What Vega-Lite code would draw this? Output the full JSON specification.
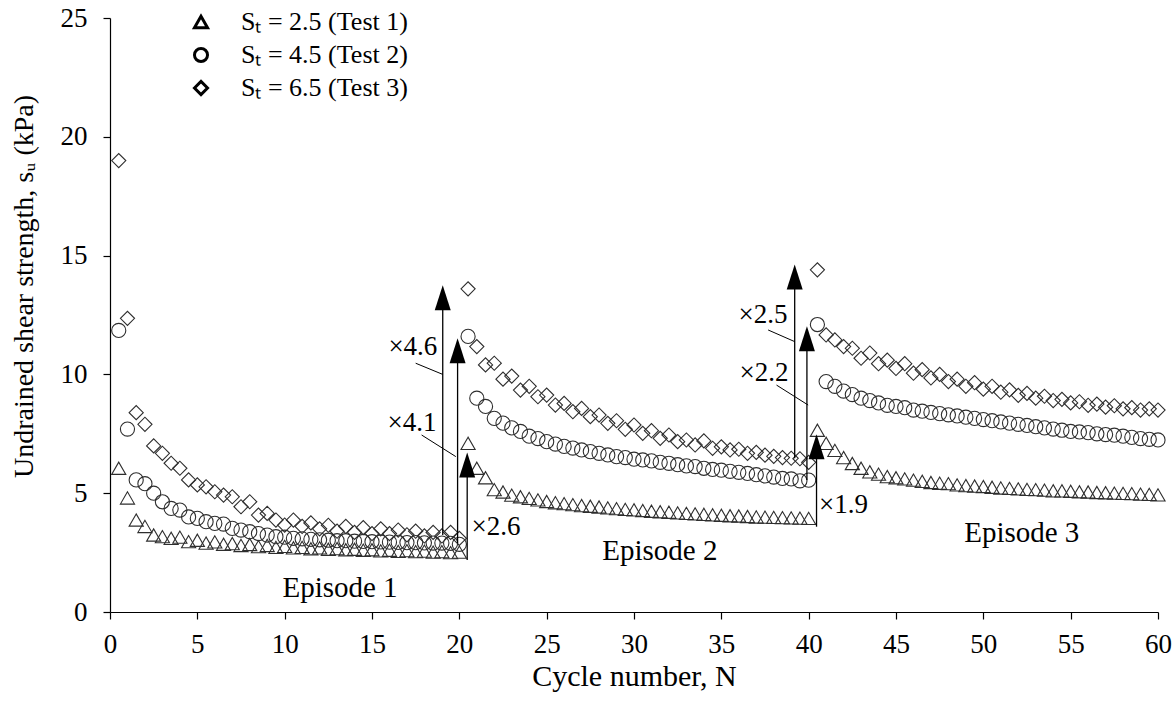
{
  "$schema": "https://vega.github.io/schema/vega-lite/v6.json",
  "width": 1048,
  "height": 594,
  "autosize": {"type": "none"},
  "padding": {"left": 110, "top": 18, "right": 16, "bottom": 89},
  "background": "white",
  "config": {
    "font": "Liberation Serif",
    "view": {"stroke": null},
    "axis": {
      "labelFont": "Liberation Serif", "titleFont": "Liberation Serif",
      "labelFontSize": 27, "titleFontSize": 29, "titleFontWeight": "normal",
      "labelColor": "black", "titleColor": "black",
      "domainColor": "black", "tickColor": "black", "domainWidth": 1.2, "tickWidth": 1.2,
      "tickSize": 7, "grid": false, "labelFlush": false
    },
    "legend": {"labelFont": "Liberation Serif"}
  },
  "datasets": {
    "points": [
      {"N":0.5,"su":6.05,"test":"Test 1"},{"N":1,"su":4.8,"test":"Test 1"},{"N":1.5,"su":3.87,"test":"Test 1"},{"N":2,"su":3.6,"test":"Test 1"},{"N":2.5,"su":3.24,"test":"Test 1"},{"N":3,"su":3.17,"test":"Test 1"},{"N":3.5,"su":3.1,"test":"Test 1"},{"N":4,"su":3.15,"test":"Test 1"},{"N":4.5,"su":2.96,"test":"Test 1"},{"N":5,"su":3.02,"test":"Test 1"},
      {"N":5.5,"su":2.9,"test":"Test 1"},{"N":6,"su":2.95,"test":"Test 1"},{"N":6.5,"su":2.85,"test":"Test 1"},{"N":7,"su":2.88,"test":"Test 1"},{"N":7.5,"su":2.8,"test":"Test 1"},{"N":8,"su":2.84,"test":"Test 1"},{"N":8.5,"su":2.75,"test":"Test 1"},{"N":9,"su":2.8,"test":"Test 1"},{"N":9.5,"su":2.72,"test":"Test 1"},{"N":10,"su":2.76,"test":"Test 1"},
      {"N":10.5,"su":2.7,"test":"Test 1"},{"N":11,"su":2.72,"test":"Test 1"},{"N":11.5,"su":2.66,"test":"Test 1"},{"N":12,"su":2.7,"test":"Test 1"},{"N":12.5,"su":2.64,"test":"Test 1"},{"N":13,"su":2.67,"test":"Test 1"},{"N":13.5,"su":2.62,"test":"Test 1"},{"N":14,"su":2.64,"test":"Test 1"},{"N":14.5,"su":2.6,"test":"Test 1"},{"N":15,"su":2.62,"test":"Test 1"},
      {"N":15.5,"su":2.57,"test":"Test 1"},{"N":16,"su":2.6,"test":"Test 1"},{"N":16.5,"su":2.55,"test":"Test 1"},{"N":17,"su":2.58,"test":"Test 1"},{"N":17.5,"su":2.54,"test":"Test 1"},{"N":18,"su":2.56,"test":"Test 1"},{"N":18.5,"su":2.52,"test":"Test 1"},{"N":19,"su":2.54,"test":"Test 1"},{"N":19.5,"su":2.5,"test":"Test 1"},{"N":20,"su":2.52,"test":"Test 1"},
      {"N":20.5,"su":7.1,"test":"Test 1"},{"N":21,"su":6.05,"test":"Test 1"},{"N":21.5,"su":5.65,"test":"Test 1"},{"N":22,"su":5.15,"test":"Test 1"},{"N":22.5,"su":5.05,"test":"Test 1"},{"N":23,"su":4.92,"test":"Test 1"},{"N":23.5,"su":4.85,"test":"Test 1"},{"N":24,"su":4.78,"test":"Test 1"},{"N":24.5,"su":4.72,"test":"Test 1"},{"N":25,"su":4.65,"test":"Test 1"},
      {"N":25.5,"su":4.6,"test":"Test 1"},{"N":26,"su":4.56,"test":"Test 1"},{"N":26.5,"su":4.52,"test":"Test 1"},{"N":27,"su":4.48,"test":"Test 1"},{"N":27.5,"su":4.45,"test":"Test 1"},{"N":28,"su":4.42,"test":"Test 1"},{"N":28.5,"su":4.38,"test":"Test 1"},{"N":29,"su":4.35,"test":"Test 1"},{"N":29.5,"su":4.32,"test":"Test 1"},{"N":30,"su":4.3,"test":"Test 1"},
      {"N":30.5,"su":4.27,"test":"Test 1"},{"N":31,"su":4.24,"test":"Test 1"},{"N":31.5,"su":4.22,"test":"Test 1"},{"N":32,"su":4.2,"test":"Test 1"},{"N":32.5,"su":4.17,"test":"Test 1"},{"N":33,"su":4.15,"test":"Test 1"},{"N":33.5,"su":4.13,"test":"Test 1"},{"N":34,"su":4.11,"test":"Test 1"},{"N":34.5,"su":4.09,"test":"Test 1"},{"N":35,"su":4.07,"test":"Test 1"},
      {"N":35.5,"su":4.05,"test":"Test 1"},{"N":36,"su":4.04,"test":"Test 1"},{"N":36.5,"su":4.02,"test":"Test 1"},{"N":37,"su":4.0,"test":"Test 1"},{"N":37.5,"su":3.99,"test":"Test 1"},{"N":38,"su":3.98,"test":"Test 1"},{"N":38.5,"su":3.97,"test":"Test 1"},{"N":39,"su":3.96,"test":"Test 1"},{"N":39.5,"su":3.95,"test":"Test 1"},{"N":40,"su":3.94,"test":"Test 1"},
      {"N":40.5,"su":7.65,"test":"Test 1"},{"N":41,"su":7.1,"test":"Test 1"},{"N":41.5,"su":6.8,"test":"Test 1"},{"N":42,"su":6.5,"test":"Test 1"},{"N":42.5,"su":6.25,"test":"Test 1"},{"N":43,"su":6.05,"test":"Test 1"},{"N":43.5,"su":5.9,"test":"Test 1"},{"N":44,"su":5.8,"test":"Test 1"},{"N":44.5,"su":5.7,"test":"Test 1"},{"N":45,"su":5.65,"test":"Test 1"},
      {"N":45.5,"su":5.6,"test":"Test 1"},{"N":46,"su":5.55,"test":"Test 1"},{"N":46.5,"su":5.5,"test":"Test 1"},{"N":47,"su":5.45,"test":"Test 1"},{"N":47.5,"su":5.42,"test":"Test 1"},{"N":48,"su":5.4,"test":"Test 1"},{"N":48.5,"su":5.35,"test":"Test 1"},{"N":49,"su":5.32,"test":"Test 1"},{"N":49.5,"su":5.3,"test":"Test 1"},{"N":50,"su":5.28,"test":"Test 1"},
      {"N":50.5,"su":5.25,"test":"Test 1"},{"N":51,"su":5.22,"test":"Test 1"},{"N":51.5,"su":5.2,"test":"Test 1"},{"N":52,"su":5.18,"test":"Test 1"},{"N":52.5,"su":5.16,"test":"Test 1"},{"N":53,"su":5.15,"test":"Test 1"},{"N":53.5,"su":5.13,"test":"Test 1"},{"N":54,"su":5.1,"test":"Test 1"},{"N":54.5,"su":5.1,"test":"Test 1"},{"N":55,"su":5.08,"test":"Test 1"},
      {"N":55.5,"su":5.06,"test":"Test 1"},{"N":56,"su":5.05,"test":"Test 1"},{"N":56.5,"su":5.03,"test":"Test 1"},{"N":57,"su":5.02,"test":"Test 1"},{"N":57.5,"su":5.0,"test":"Test 1"},{"N":58,"su":4.99,"test":"Test 1"},{"N":58.5,"su":4.98,"test":"Test 1"},{"N":59,"su":4.96,"test":"Test 1"},{"N":59.5,"su":4.95,"test":"Test 1"},{"N":60,"su":4.93,"test":"Test 1"},

      {"N":0.5,"su":11.85,"test":"Test 2"},{"N":1,"su":7.7,"test":"Test 2"},{"N":1.5,"su":5.56,"test":"Test 2"},{"N":2,"su":5.4,"test":"Test 2"},{"N":2.5,"su":5.0,"test":"Test 2"},{"N":3,"su":4.64,"test":"Test 2"},{"N":3.5,"su":4.36,"test":"Test 2"},{"N":4,"su":4.29,"test":"Test 2"},{"N":4.5,"su":4.0,"test":"Test 2"},{"N":5,"su":3.94,"test":"Test 2"},
      {"N":5.5,"su":3.8,"test":"Test 2"},{"N":6,"su":3.73,"test":"Test 2"},{"N":6.5,"su":3.7,"test":"Test 2"},{"N":7,"su":3.52,"test":"Test 2"},{"N":7.5,"su":3.45,"test":"Test 2"},{"N":8,"su":3.38,"test":"Test 2"},{"N":8.5,"su":3.3,"test":"Test 2"},{"N":9,"su":3.24,"test":"Test 2"},{"N":9.5,"su":3.17,"test":"Test 2"},{"N":10,"su":3.15,"test":"Test 2"},
      {"N":10.5,"su":3.1,"test":"Test 2"},{"N":11,"su":3.08,"test":"Test 2"},{"N":11.5,"su":3.06,"test":"Test 2"},{"N":12,"su":3.04,"test":"Test 2"},{"N":12.5,"su":3.02,"test":"Test 2"},{"N":13,"su":3.0,"test":"Test 2"},{"N":13.5,"su":3.0,"test":"Test 2"},{"N":14,"su":2.98,"test":"Test 2"},{"N":14.5,"su":2.97,"test":"Test 2"},{"N":15,"su":2.96,"test":"Test 2"},
      {"N":15.5,"su":2.95,"test":"Test 2"},{"N":16,"su":2.94,"test":"Test 2"},{"N":16.5,"su":2.93,"test":"Test 2"},{"N":17,"su":2.92,"test":"Test 2"},{"N":17.5,"su":2.92,"test":"Test 2"},{"N":18,"su":2.91,"test":"Test 2"},{"N":18.5,"su":2.9,"test":"Test 2"},{"N":19,"su":2.9,"test":"Test 2"},{"N":19.5,"su":2.89,"test":"Test 2"},{"N":20,"su":2.85,"test":"Test 2"},
      {"N":20.5,"su":11.6,"test":"Test 2"},{"N":21,"su":9.0,"test":"Test 2"},{"N":21.5,"su":8.65,"test":"Test 2"},{"N":22,"su":8.15,"test":"Test 2"},{"N":22.5,"su":7.95,"test":"Test 2"},{"N":23,"su":7.75,"test":"Test 2"},{"N":23.5,"su":7.6,"test":"Test 2"},{"N":24,"su":7.4,"test":"Test 2"},{"N":24.5,"su":7.3,"test":"Test 2"},{"N":25,"su":7.17,"test":"Test 2"},
      {"N":25.5,"su":7.07,"test":"Test 2"},{"N":26,"su":6.97,"test":"Test 2"},{"N":26.5,"su":6.9,"test":"Test 2"},{"N":27,"su":6.82,"test":"Test 2"},{"N":27.5,"su":6.75,"test":"Test 2"},{"N":28,"su":6.68,"test":"Test 2"},{"N":28.5,"su":6.61,"test":"Test 2"},{"N":29,"su":6.54,"test":"Test 2"},{"N":29.5,"su":6.5,"test":"Test 2"},{"N":30,"su":6.43,"test":"Test 2"},
      {"N":30.5,"su":6.4,"test":"Test 2"},{"N":31,"su":6.36,"test":"Test 2"},{"N":31.5,"su":6.3,"test":"Test 2"},{"N":32,"su":6.26,"test":"Test 2"},{"N":32.5,"su":6.2,"test":"Test 2"},{"N":33,"su":6.15,"test":"Test 2"},{"N":33.5,"su":6.12,"test":"Test 2"},{"N":34,"su":6.05,"test":"Test 2"},{"N":34.5,"su":6.0,"test":"Test 2"},{"N":35,"su":5.97,"test":"Test 2"},
      {"N":35.5,"su":5.92,"test":"Test 2"},{"N":36,"su":5.88,"test":"Test 2"},{"N":36.5,"su":5.83,"test":"Test 2"},{"N":37,"su":5.78,"test":"Test 2"},{"N":37.5,"su":5.73,"test":"Test 2"},{"N":38,"su":5.68,"test":"Test 2"},{"N":38.5,"su":5.62,"test":"Test 2"},{"N":39,"su":5.6,"test":"Test 2"},{"N":39.5,"su":5.52,"test":"Test 2"},{"N":40,"su":5.55,"test":"Test 2"},
      {"N":40.5,"su":12.1,"test":"Test 2"},{"N":41,"su":9.7,"test":"Test 2"},{"N":41.5,"su":9.5,"test":"Test 2"},{"N":42,"su":9.3,"test":"Test 2"},{"N":42.5,"su":9.15,"test":"Test 2"},{"N":43,"su":9.0,"test":"Test 2"},{"N":43.5,"su":8.9,"test":"Test 2"},{"N":44,"su":8.8,"test":"Test 2"},{"N":44.5,"su":8.7,"test":"Test 2"},{"N":45,"su":8.65,"test":"Test 2"},
      {"N":45.5,"su":8.6,"test":"Test 2"},{"N":46,"su":8.5,"test":"Test 2"},{"N":46.5,"su":8.45,"test":"Test 2"},{"N":47,"su":8.4,"test":"Test 2"},{"N":47.5,"su":8.35,"test":"Test 2"},{"N":48,"su":8.3,"test":"Test 2"},{"N":48.5,"su":8.25,"test":"Test 2"},{"N":49,"su":8.2,"test":"Test 2"},{"N":49.5,"su":8.15,"test":"Test 2"},{"N":50,"su":8.1,"test":"Test 2"},
      {"N":50.5,"su":8.05,"test":"Test 2"},{"N":51,"su":8.0,"test":"Test 2"},{"N":51.5,"su":7.95,"test":"Test 2"},{"N":52,"su":7.9,"test":"Test 2"},{"N":52.5,"su":7.85,"test":"Test 2"},{"N":53,"su":7.8,"test":"Test 2"},{"N":53.5,"su":7.75,"test":"Test 2"},{"N":54,"su":7.7,"test":"Test 2"},{"N":54.5,"su":7.65,"test":"Test 2"},{"N":55,"su":7.6,"test":"Test 2"},
      {"N":55.5,"su":7.58,"test":"Test 2"},{"N":56,"su":7.55,"test":"Test 2"},{"N":56.5,"su":7.5,"test":"Test 2"},{"N":57,"su":7.47,"test":"Test 2"},{"N":57.5,"su":7.44,"test":"Test 2"},{"N":58,"su":7.4,"test":"Test 2"},{"N":58.5,"su":7.35,"test":"Test 2"},{"N":59,"su":7.3,"test":"Test 2"},{"N":59.5,"su":7.27,"test":"Test 2"},{"N":60,"su":7.24,"test":"Test 2"},

      {"N":0.5,"su":19.0,"test":"Test 3"},{"N":1,"su":12.36,"test":"Test 3"},{"N":1.5,"su":8.39,"test":"Test 3"},{"N":2,"su":7.9,"test":"Test 3"},{"N":2.5,"su":6.99,"test":"Test 3"},{"N":3,"su":6.68,"test":"Test 3"},{"N":3.5,"su":6.26,"test":"Test 3"},{"N":4,"su":6.05,"test":"Test 3"},{"N":4.5,"su":5.56,"test":"Test 3"},{"N":5,"su":5.35,"test":"Test 3"},
      {"N":5.5,"su":5.27,"test":"Test 3"},{"N":6,"su":5.06,"test":"Test 3"},{"N":6.5,"su":4.92,"test":"Test 3"},{"N":7,"su":4.85,"test":"Test 3"},{"N":7.5,"su":4.43,"test":"Test 3"},{"N":8,"su":4.64,"test":"Test 3"},{"N":8.5,"su":4.08,"test":"Test 3"},{"N":9,"su":4.15,"test":"Test 3"},{"N":9.5,"su":3.87,"test":"Test 3"},{"N":10,"su":3.66,"test":"Test 3"},
      {"N":10.5,"su":3.87,"test":"Test 3"},{"N":11,"su":3.6,"test":"Test 3"},{"N":11.5,"su":3.75,"test":"Test 3"},{"N":12,"su":3.5,"test":"Test 3"},{"N":12.5,"su":3.65,"test":"Test 3"},{"N":13,"su":3.4,"test":"Test 3"},{"N":13.5,"su":3.6,"test":"Test 3"},{"N":14,"su":3.35,"test":"Test 3"},{"N":14.5,"su":3.55,"test":"Test 3"},{"N":15,"su":3.3,"test":"Test 3"},
      {"N":15.5,"su":3.5,"test":"Test 3"},{"N":16,"su":3.3,"test":"Test 3"},{"N":16.5,"su":3.45,"test":"Test 3"},{"N":17,"su":3.25,"test":"Test 3"},{"N":17.5,"su":3.4,"test":"Test 3"},{"N":18,"su":3.2,"test":"Test 3"},{"N":18.5,"su":3.35,"test":"Test 3"},{"N":19,"su":3.2,"test":"Test 3"},{"N":19.5,"su":3.35,"test":"Test 3"},{"N":20,"su":3.1,"test":"Test 3"},
      {"N":20.5,"su":13.6,"test":"Test 3"},{"N":21,"su":11.17,"test":"Test 3"},{"N":21.5,"su":10.4,"test":"Test 3"},{"N":22,"su":10.47,"test":"Test 3"},{"N":22.5,"su":9.8,"test":"Test 3"},{"N":23,"su":9.93,"test":"Test 3"},{"N":23.5,"su":9.34,"test":"Test 3"},{"N":24,"su":9.5,"test":"Test 3"},{"N":24.5,"su":9.06,"test":"Test 3"},{"N":25,"su":9.13,"test":"Test 3"},
      {"N":25.5,"su":8.71,"test":"Test 3"},{"N":26,"su":8.78,"test":"Test 3"},{"N":26.5,"su":8.43,"test":"Test 3"},{"N":27,"su":8.57,"test":"Test 3"},{"N":27.5,"su":8.22,"test":"Test 3"},{"N":28,"su":8.29,"test":"Test 3"},{"N":28.5,"su":7.94,"test":"Test 3"},{"N":29,"su":8.05,"test":"Test 3"},{"N":29.5,"su":7.69,"test":"Test 3"},{"N":30,"su":7.87,"test":"Test 3"},
      {"N":30.5,"su":7.52,"test":"Test 3"},{"N":31,"su":7.63,"test":"Test 3"},{"N":31.5,"su":7.31,"test":"Test 3"},{"N":32,"su":7.45,"test":"Test 3"},{"N":32.5,"su":7.17,"test":"Test 3"},{"N":33,"su":7.24,"test":"Test 3"},{"N":33.5,"su":7.03,"test":"Test 3"},{"N":34,"su":7.2,"test":"Test 3"},{"N":34.5,"su":6.89,"test":"Test 3"},{"N":35,"su":6.95,"test":"Test 3"},
      {"N":35.5,"su":6.82,"test":"Test 3"},{"N":36,"su":6.85,"test":"Test 3"},{"N":36.5,"su":6.68,"test":"Test 3"},{"N":37,"su":6.72,"test":"Test 3"},{"N":37.5,"su":6.6,"test":"Test 3"},{"N":38,"su":6.55,"test":"Test 3"},{"N":38.5,"su":6.5,"test":"Test 3"},{"N":39,"su":6.47,"test":"Test 3"},{"N":39.5,"su":6.45,"test":"Test 3"},{"N":40,"su":6.3,"test":"Test 3"},
      {"N":40.5,"su":14.4,"test":"Test 3"},{"N":41,"su":11.66,"test":"Test 3"},{"N":41.5,"su":11.45,"test":"Test 3"},{"N":42,"su":11.17,"test":"Test 3"},{"N":42.5,"su":11.1,"test":"Test 3"},{"N":43,"su":10.68,"test":"Test 3"},{"N":43.5,"su":10.9,"test":"Test 3"},{"N":44,"su":10.45,"test":"Test 3"},{"N":44.5,"su":10.6,"test":"Test 3"},{"N":45,"su":10.25,"test":"Test 3"},
      {"N":45.5,"su":10.45,"test":"Test 3"},{"N":46,"su":10.05,"test":"Test 3"},{"N":46.5,"su":10.2,"test":"Test 3"},{"N":47,"su":9.85,"test":"Test 3"},{"N":47.5,"su":10.0,"test":"Test 3"},{"N":48,"su":9.7,"test":"Test 3"},{"N":48.5,"su":9.8,"test":"Test 3"},{"N":49,"su":9.5,"test":"Test 3"},{"N":49.5,"su":9.65,"test":"Test 3"},{"N":50,"su":9.38,"test":"Test 3"},
      {"N":50.5,"su":9.5,"test":"Test 3"},{"N":51,"su":9.25,"test":"Test 3"},{"N":51.5,"su":9.35,"test":"Test 3"},{"N":52,"su":9.12,"test":"Test 3"},{"N":52.5,"su":9.2,"test":"Test 3"},{"N":53,"su":9.0,"test":"Test 3"},{"N":53.5,"su":9.08,"test":"Test 3"},{"N":54,"su":8.9,"test":"Test 3"},{"N":54.5,"su":8.95,"test":"Test 3"},{"N":55,"su":8.8,"test":"Test 3"},
      {"N":55.5,"su":8.85,"test":"Test 3"},{"N":56,"su":8.7,"test":"Test 3"},{"N":56.5,"su":8.75,"test":"Test 3"},{"N":57,"su":8.62,"test":"Test 3"},{"N":57.5,"su":8.68,"test":"Test 3"},{"N":58,"su":8.55,"test":"Test 3"},{"N":58.5,"su":8.6,"test":"Test 3"},{"N":59,"su":8.5,"test":"Test 3"},{"N":59.5,"su":8.55,"test":"Test 3"},{"N":60,"su":8.5,"test":"Test 3"}
    ],
    "arrows": [
      {"x": 19.05, "y0": 3.24, "yhead": 13.23},
      {"x": 19.9, "y0": 2.89, "yhead": 11.0},
      {"x": 20.45, "y0": 2.19, "yhead": 6.19},
      {"x": 39.2, "y0": 6.47, "yhead": 14.1},
      {"x": 39.9, "y0": 5.56, "yhead": 11.5},
      {"x": 40.45, "y0": 3.59, "yhead": 6.96}
    ],
    "leaders": [
      {"x1": 17.5, "y1": 10.47, "x2": 19.05, "y2": 10.0},
      {"x1": 17.84, "y1": 7.45, "x2": 19.8, "y2": 6.54},
      {"x1": 37.68, "y1": 11.87, "x2": 39.2, "y2": 11.38},
      {"x1": 38.16, "y1": 9.55, "x2": 39.97, "y2": 8.71}
    ],
    "ratios": [
      {"x": 17.34, "y": 11.15, "label": "×4.6"},
      {"x": 17.29, "y": 7.95, "label": "×4.1"},
      {"x": 22.1, "y": 3.58, "label": "×2.6"},
      {"x": 37.38, "y": 12.5, "label": "×2.5"},
      {"x": 37.44, "y": 10.06, "label": "×2.2"},
      {"x": 42.0, "y": 4.5, "label": "×1.9"}
    ],
    "episodes": [
      {"x": 13.17, "y": 1.01, "label": "Episode 1"},
      {"x": 31.48, "y": 2.57, "label": "Episode 2"},
      {"x": 52.2, "y": 3.32, "label": "Episode 3"}
    ]
  },
  "layer": [
    {
      "data": {"name": "points"},
      "mark": {"type": "point", "filled": false, "strokeWidth": 1.1, "color": "#2e2e2e", "opacity": 1, "size": 200},
      "encoding": {
        "x": {"field": "N", "type": "quantitative", "title": "Cycle number, N",
              "scale": {"domain": [0, 60], "nice": false},
              "axis": {"values": [0,5,10,15,20,25,30,35,40,45,50,55,60], "labelPadding": 12, "titlePadding": 4,
                       "titleFontSize": 30, "labelFont": "Liberation Serif", "titleFont": "Liberation Serif"}},
        "y": {"field": "su", "type": "quantitative", "title": "Undrained shear strength, sᵤ (kPa)",
              "scale": {"domain": [0, 25], "nice": false},
              "axis": {"values": [0,5,10,15,20,25], "labelPadding": 16, "titlePadding": 22, "titleY": 268,
                       "titleFontSize": 28, "labelFont": "Liberation Serif", "titleFont": "Liberation Serif"}},
        "shape": {"field": "test", "type": "nominal",
                  "scale": {"domain": ["Test 1", "Test 2", "Test 3"], "range": ["triangle-up", "circle", "diamond"]},
                  "legend": {"orient": "none", "legendX": 78, "legendY": -9, "title": null,
                             "labelFont": "Liberation Serif", "labelFontSize": 26, "labelColor": "black", "labelLimit": 500,
                             "symbolSize": 170, "symbolStrokeWidth": 3, "symbolStrokeColor": "black",
                             "rowPadding": 7, "labelOffset": 27,
                             "labelExpr": "datum.label == 'Test 1' ? 'Sₜ = 2.5 (Test 1)' : datum.label == 'Test 2' ? 'Sₜ = 4.5 (Test 2)' : 'Sₜ = 6.5 (Test 3)'"}}
      }
    },
    {
      "data": {"name": "arrows"},
      "mark": {"type": "rule", "color": "black", "strokeWidth": 1.3},
      "encoding": {
        "x": {"field": "x", "type": "quantitative", "title": "Cycle number, N"},
        "y": {"field": "y0", "type": "quantitative", "title": "Undrained shear strength, sᵤ (kPa)"},
        "y2": {"field": "yhead"}
      }
    },
    {
      "data": {"name": "arrows"},
      "mark": {"type": "point", "shape": "M0,-1L0.64,1L-0.64,1Z", "filled": true, "color": "black", "size": 625, "opacity": 1},
      "encoding": {
        "x": {"field": "x", "type": "quantitative", "title": "Cycle number, N"},
        "y": {"field": "yhead", "type": "quantitative", "title": "Undrained shear strength, sᵤ (kPa)"}
      }
    },
    {
      "data": {"name": "leaders"},
      "mark": {"type": "rule", "color": "black", "strokeWidth": 1},
      "encoding": {
        "x": {"field": "x1", "type": "quantitative", "title": "Cycle number, N"},
        "x2": {"field": "x2"},
        "y": {"field": "y1", "type": "quantitative", "title": "Undrained shear strength, sᵤ (kPa)"},
        "y2": {"field": "y2"}
      }
    },
    {
      "data": {"name": "ratios"},
      "mark": {"type": "text", "font": "Liberation Serif", "fontSize": 27, "color": "black", "align": "center", "baseline": "middle"},
      "encoding": {
        "x": {"field": "x", "type": "quantitative", "title": "Cycle number, N"},
        "y": {"field": "y", "type": "quantitative", "title": "Undrained shear strength, sᵤ (kPa)"},
        "text": {"field": "label"}
      }
    },
    {
      "data": {"name": "episodes"},
      "mark": {"type": "text", "font": "Liberation Serif", "fontSize": 29, "color": "black", "align": "center", "baseline": "middle"},
      "encoding": {
        "x": {"field": "x", "type": "quantitative", "title": "Cycle number, N"},
        "y": {"field": "y", "type": "quantitative", "title": "Undrained shear strength, sᵤ (kPa)"},
        "text": {"field": "label"}
      }
    }
  ]
}
